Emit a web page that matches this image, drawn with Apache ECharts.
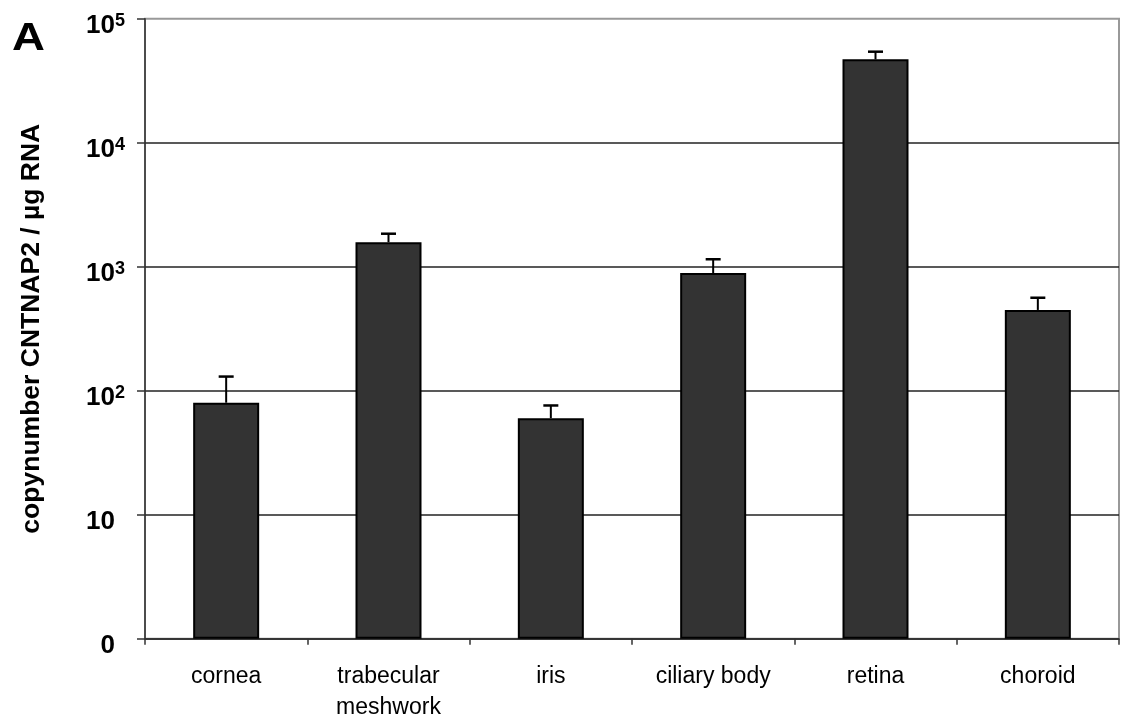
<!DOCTYPE html>
<html>
<head>
<meta charset="utf-8">
<script src="https://cdn.jsdelivr.net/npm/echarts@6/dist/echarts.min.js"></script>
<style>
html,body{margin:0;padding:0;background:#fff;}
#chart{width:1121px;height:716px;}
</style>
</head>
<body>
<div id="chart"></div>
<script>
const categories = ['cornea', 'trabecular\nmeshwork', 'iris', 'ciliary body', 'retina', 'choroid'];
const meanValues = [80, 1575, 60, 890, 47000, 448];
const upperValues = [130, 1845, 76, 1148, 54200, 562];
const yTickExponents = [0, 1, 2, 3, 4, 5];

const chart = echarts.init(document.getElementById('chart'));
const FONT = '"Liberation Sans", Arial, sans-serif';

function yLabel(v) {
  const e = Math.round(Math.log10(v));
  if (e === 0) return '{b|0}{sp| }';
  if (e === 1) return '{b|10}{sp| }';
  return '{b|10}{s|' + e + '}';
}

const option = {
  backgroundColor: '#fff',
  animation: false,
  graphic: [{
    type: 'text', left: 12, top: 21, scaleX: 1.2,
    style: { text: 'A', font: 'bold 38px "Liberation Sans", Arial, sans-serif', fill: '#000' }
  }],
  grid: {
    left: 145, right: 2, top: 18.7, bottom: 77.3,
    outerBoundsMode: 'none',
    containLabel: false,
    show: true, borderColor: '#999', borderWidth: 2, backgroundColor: '#fff'
  },
  xAxis: {
    type: 'category',
    data: categories,
    axisLine: { lineStyle: { color: '#333', width: 1.5 } },
    axisTick: { show: true, length: 6, lineStyle: { color: '#333', width: 1.5 } },
    axisLabel: {
      color: '#000', fontSize: 23, margin: 22, lineHeight: 31,
      fontFamily: FONT
    },
    splitLine: { show: false }
  },
  yAxis: {
    type: 'log',
    logBase: 10,
    min: Math.pow(10, yTickExponents[0]),
    max: Math.pow(10, yTickExponents[yTickExponents.length - 1]),
    name: 'copynumber CNTNAP2 / µg RNA',
    nameLocation: 'middle',
    nameGap: 100,
    nameTextStyle: {
      color: '#000', fontSize: 26.5, fontWeight: 'bold',
      fontFamily: FONT
    },
    axisLine: { show: true, lineStyle: { color: '#333', width: 1.5 } },
    axisTick: { show: true, length: 8, lineStyle: { color: '#333', width: 1.5 } },
    splitLine: { show: true, showMaxLine: false, lineStyle: { color: '#222', width: 1.5 } },
    axisLabel: {
      margin: 20,
      padding: [15, 0, 0, 0],
      formatter: yLabel,
      rich: {
        b: { fontSize: 26, fontWeight: 'bold', color: '#000', fontFamily: FONT, lineHeight: 28 },
        s: { fontSize: 18, fontWeight: 'bold', color: '#000', fontFamily: FONT, verticalAlign: 'top', lineHeight: 28, padding: [0, 0, 10, 0] },
        sp: { fontSize: 18, width: 10, lineHeight: 28 }
      }
    }
  },
  series: [
    {
      type: 'bar',
      data: meanValues,
      barWidth: 66,
      itemStyle: { color: '#333333', borderColor: '#000', borderWidth: 2 },
      z: 3
    },
    {
      type: 'custom',
      data: meanValues.map((v, i) => [i, v, upperValues[i]]),
      renderItem: function (params, api) {
        const i = api.value(0);
        const p0 = api.coord([i, api.value(1)]);
        const p1 = api.coord([i, api.value(2)]);
        const hw = 7.5;
        return {
          type: 'group',
          children: [
            { type: 'line', shape: { x1: p0[0], y1: p0[1], x2: p1[0], y2: p1[1] }, style: { stroke: '#000', lineWidth: 2 } },
            { type: 'line', shape: { x1: p1[0] - hw, y1: p1[1], x2: p1[0] + hw, y2: p1[1] }, style: { stroke: '#000', lineWidth: 2.5 } }
          ]
        };
      },
      z: 4
    }
  ]
};
chart.setOption(option);
</script>
</body>
</html>
